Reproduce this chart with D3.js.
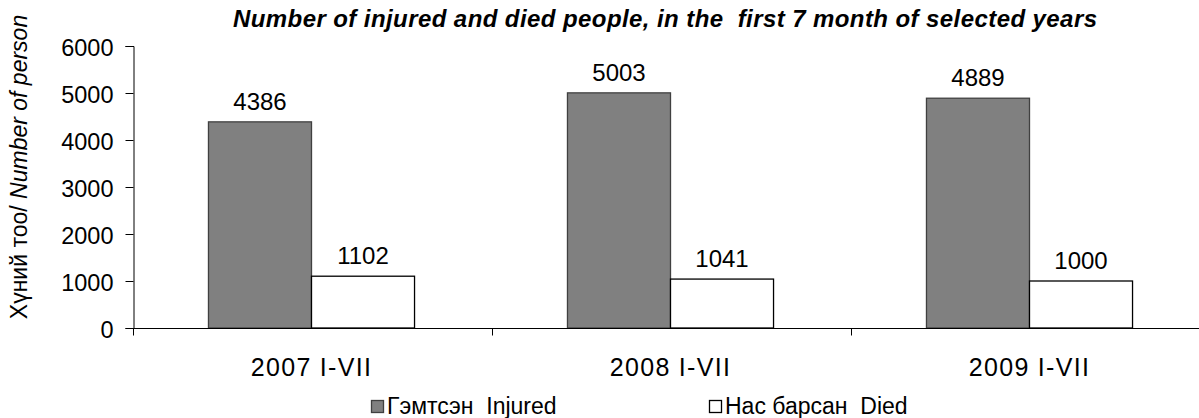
<!DOCTYPE html>
<html><head><meta charset="utf-8">
<script src="https://cdn.jsdelivr.net/npm/d3@7"></script>
<style>body{margin:0;background:#fff}svg{display:block;font-family:"Liberation Sans",Arial,sans-serif}text{white-space:pre}</style>
</head><body><svg id="c" width="1199" height="418"></svg>
<script>
const categories = ["2007 I-VII", "2008 I-VII", "2009 I-VII"];
const injured = [4386, 5003, 4889];
const died = [1102, 1041, 1000];
const seriesNames = ["Гэмтсэн  Injured", "Нас барсан  Died"];
const yTicks = [0, 1000, 2000, 3000, 4000, 5000, 6000];
const titleText = "Number of injured and died people, in the  first 7 month of selected years";

const svg = d3.select("#c");
const x0 = d3.scaleBand().domain(categories).range([132, 1209]).paddingInner(0.426).paddingOuter(0.213);
const x1 = d3.scaleBand().domain([0, 1]).range([0, x0.bandwidth()]);
const y = d3.scaleLinear().domain([0, 6000]).range([328, 46]);

const data = categories.map((c, i) => ({c, v: [injured[i], died[i]]}));
const fills = ["#808080", "#ffffff"], strokes = ["#404040", "#000000"];

// title
svg.append("text").attr("x", 665).attr("y", 27).attr("text-anchor", "middle")
  .attr("font-size", 24).attr("font-weight", "bold").attr("font-style", "italic")
  .attr("textLength", 864).attr("lengthAdjust", "spacing").text(titleText);

// y axis
const ya = svg.append("g").attr("transform", "translate(133.5,0)")
  .call(d3.axisLeft(y).tickValues(yTicks).tickSize(8).tickPadding(12).tickFormat(d3.format("d")));
ya.select(".domain").attr("stroke", "#000");
ya.selectAll("text").attr("font-size", 23.5).attr("font-family", "Liberation Sans, Arial, sans-serif").attr("fill", "#000").attr("dy", "0.4em");
ya.selectAll("line").attr("stroke", "#000");

// bars
const g = svg.append("g").selectAll("g").data(data).join("g").attr("transform", d => `translate(${x0(d.c)},0)`);
g.selectAll("rect").data(d => d.v.map((v, k) => ({v, k}))).join("rect")
  .attr("x", d => x1(d.k)).attr("y", d => y(d.v)).attr("width", x1.bandwidth()).attr("height", d => y(0) - y(d.v))
  .attr("fill", d => fills[d.k]).attr("stroke", d => strokes[d.k]).attr("stroke-width", 1.3);
g.selectAll("text").data(d => d.v.map((v, k) => ({v, k}))).join("text")
  .attr("x", d => x1(d.k) + x1.bandwidth() / 2).attr("y", d => y(d.v) - 12).attr("text-anchor", "middle")
  .attr("font-size", 24).text(d => d.v);

// x axis
const xa = svg.append("g").attr("transform", "translate(0,328.5)");
xa.append("line").attr("x1", 133).attr("x2", 1199).attr("stroke", "#000");
const bounds = [0, 1, 2, 3].map(i => 132 + i * x0.step() + 1);
xa.selectAll("line.t").data(bounds).join("line").attr("class", "t").attr("x1", d => d + 0.5).attr("x2", d => d + 0.5).attr("y1", 0).attr("y2", 7).attr("stroke", "#000");
xa.selectAll("text").data(categories).join("text").attr("x", d => x0(d) + x0.bandwidth() / 2).attr("y", 47)
  .attr("text-anchor", "middle").attr("font-size", 25).attr("letter-spacing", 1.3).text(d => d);

// y label
const yl = svg.append("text").attr("transform", "translate(27,167) rotate(-90)").attr("text-anchor", "middle").attr("font-size", 23);
yl.append("tspan").text("Хүний тоо/ ");
yl.append("tspan").attr("font-style", "italic").text("Number of person");

// legend
const legX = [371, 709];
const lg = svg.append("g").selectAll("g").data(seriesNames).join("g").attr("transform", (d, i) => `translate(${legX[i]},0)`);
lg.append("rect").attr("x", 0.5).attr("y", 400.5).attr("width", 12).attr("height", 12)
  .attr("fill", (d, i) => fills[i]).attr("stroke", (d, i) => strokes[i]).attr("stroke-width", 1.3);
lg.append("text").attr("x", 16).attr("y", 414).attr("font-size", 23).text(d => d);
</script></body></html>
